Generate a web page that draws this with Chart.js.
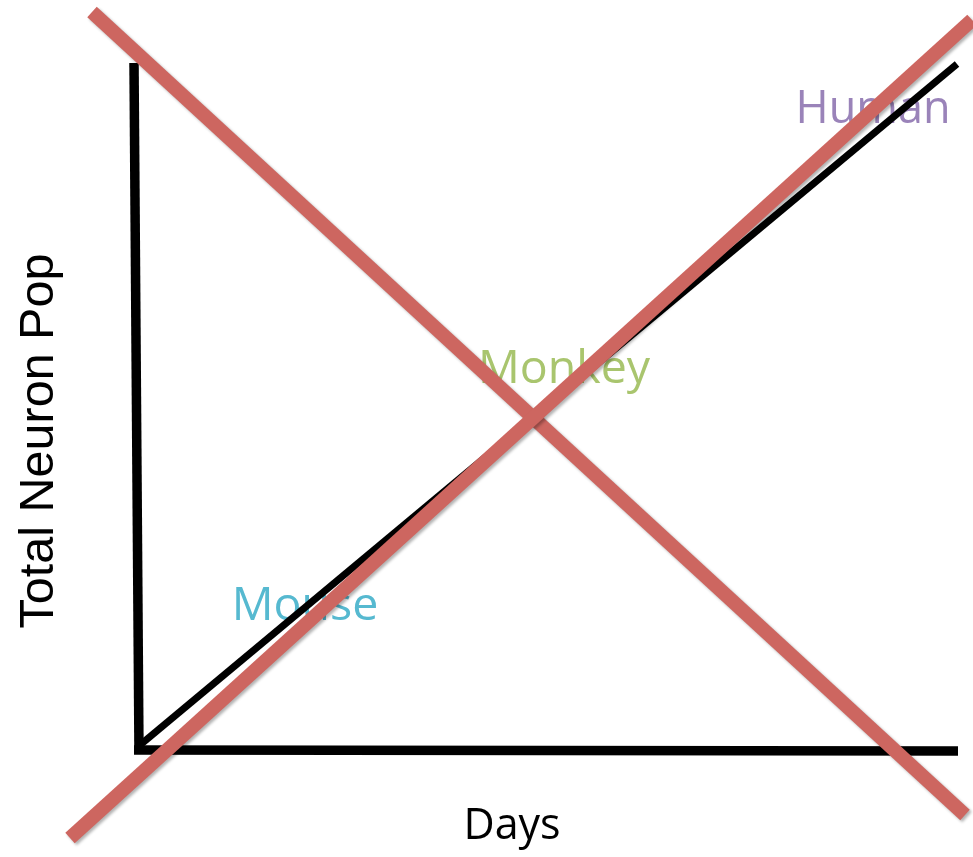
<!DOCTYPE html>
<html>
<head>
<meta charset="utf-8">
<script src="https://cdn.jsdelivr.net/npm/chart.js@4"></script>
<style>
  html, body { margin: 0; padding: 0; background: #fff; }
  #wrap { width: 973px; height: 857px; }
</style>
</head>
<body>
<div id="wrap"><canvas id="c" width="973" height="857"></canvas></div>
<script>
// Diagram coordinates (x to the right, y downward)
const xAxisLine   = [{x: 134, y: 750}, {x: 958, y: 751}];
const yAxisLine   = [{x: 134, y: 63},  {x: 139, y: 754}];
const growthLine  = [{x: 140, y: 745}, {x: 957, y: 64}];
const crossDown   = [{x: 92,  y: 12},  {x: 965, y: 815}];
const crossUp     = [{x: 70,  y: 838}, {x: 972, y: 20}];

const speciesNames  = ["Human", "Monkey", "Mouse"];
const speciesX      = [873, 564, 305];
const speciesY      = [123, 383, 620];
const speciesSizes  = [45, 46.5, 46.5];
const speciesColors = ["#9A83B9", "#A9C56E", "#56B9D0"];

const xTitle = "Days";
const yTitle = "Total Neuron Pop";

const textPlugin = {
  id: 'texts',
  beforeDatasetsDraw(chart) {
    const ctx = chart.ctx;
    const xs = chart.scales.x, ys = chart.scales.y;
    ctx.save();
    ctx.textAlign = 'center';
    ctx.textBaseline = 'alphabetic';
    speciesNames.forEach((n, i) => {
      ctx.font = speciesSizes[i] + 'px "Open Sans"';
      ctx.fillStyle = speciesColors[i];
      ctx.fillText(n, xs.getPixelForValue(speciesX[i]), ys.getPixelForValue(speciesY[i]));
    });
    ctx.fillStyle = '#000';
    ctx.font = '43px "Open Sans"';
    ctx.fillText(xTitle, xs.getPixelForValue(512), ys.getPixelForValue(839));
    ctx.translate(xs.getPixelForValue(53), ys.getPixelForValue(441));
    ctx.rotate(-Math.PI / 2);
    ctx.font = '48.5px "Liberation Sans"';
    ctx.fillText(yTitle, 0, 0);
    ctx.restore();
  }
};

const shadowPlugin = {
  id: 'shadow',
  beforeDatasetDraw(chart, args) {
    const ds = chart.data.datasets[args.index];
    const ctx = chart.ctx;
    ctx.save();
    if (ds.isCross) {
      ctx.shadowColor = 'rgba(0,0,0,0.30)';
      ctx.shadowOffsetX = 2;
      ctx.shadowOffsetY = 2;
      ctx.shadowBlur = 3;
    }
  },
  afterDatasetDraw(chart) {
    chart.ctx.restore();
  }
};

function lineDs(data, color, width, extra) {
  return Object.assign({
    data: data,
    showLine: true,
    borderColor: color,
    backgroundColor: color,
    borderWidth: width,
    borderCapStyle: 'butt',
    pointRadius: 0,
    pointHoverRadius: 0,
    fill: false,
    tension: 0
  }, extra || {});
}

new Chart(document.getElementById('c'), {
  type: 'scatter',
  data: {
    datasets: [
      lineDs(crossUp, '#CD6660', 14, {isCross: true}),
      lineDs(crossDown, '#CD6660', 14, {isCross: true}),
      lineDs(growthLine, '#000000', 7),
      lineDs(xAxisLine, '#000000', 9.5),
      lineDs(yAxisLine, '#000000', 9.5)
    ]
  },
  options: {
    responsive: false,
    animation: false,
    layout: { padding: 0 },
    plugins: { legend: { display: false }, tooltip: { enabled: false } },
    scales: {
      x: { type: 'linear', min: 0, max: 973, display: false },
      y: { type: 'linear', min: 0, max: 857, reverse: true, display: false }
    }
  },
  plugins: [textPlugin, shadowPlugin]
});
</script>
</body>
</html>
